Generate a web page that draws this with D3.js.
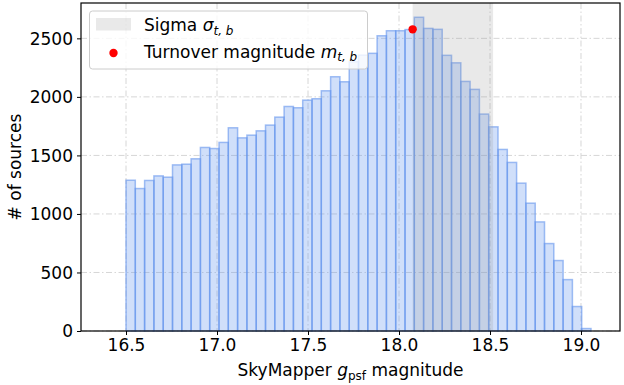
<!DOCTYPE html>
<html>
<head>
<meta charset="utf-8">
<script src="https://cdn.jsdelivr.net/npm/d3@7"></script>
<style>
  body { margin: 0; background: #fff; }
  text { font-family: "DejaVu Sans", sans-serif; }
</style>
</head>
<body>
<svg id="chart" width="624" height="385"></svg>
<script>
// histogram: 50 bins starting at 16.5
const binStart = 16.5;
const binWidth = 0.0511;
const counts = [
  1288, 1217, 1286, 1325, 1314, 1419, 1425, 1471, 1568, 1559,
  1611, 1736, 1650, 1673, 1710, 1759, 1827, 1918, 1907, 1972,
  1984, 2052, 2172, 2129, 2300, 2357, 2372, 2522, 2565, 2565,
  2575, 2680, 2585, 2577, 2355, 2291, 2132, 2064, 1853, 1744,
  1551, 1440, 1263, 1092, 932, 747, 602, 439, 209, 21
];
const xTicks = [16.5, 17.0, 17.5, 18.0, 18.5, 19.0];
const yTicks = [0, 500, 1000, 1500, 2000, 2500];
const turnoverMag = 18.075;
const turnoverCount = 2577;
const sigmaRange = [18.075, 18.517];

(() => {
  const svg = d3.select("#chart");
  const pl = 81, pr = 620, pt = 3, pb = 331;

  const x = d3.scaleLinear().domain([16.2527, 19.2143]).range([pl, pr]);
  const y = d3.scaleLinear().domain([0, 2802]).range([pb, pt]);

  const bins = counts.map((c, i) => ({
    x0: binStart + i * binWidth,
    x1: binStart + (i + 1) * binWidth,
    n: c
  }));

  // grid (dash-dot)
  const grid = svg.append("g").attr("stroke", "#d6d6d6").attr("stroke-width", 1)
    .attr("stroke-dasharray", "6,2.5,1.5,2.5");
  grid.selectAll(".gx").data(xTicks).join("line")
    .attr("x1", d => x(d)).attr("x2", d => x(d))
    .attr("y1", pt).attr("y2", pb);
  grid.selectAll(".gy").data(yTicks).join("line")
    .attr("x1", pl).attr("x2", pr)
    .attr("y1", d => y(d)).attr("y2", d => y(d));

  // bars
  svg.append("g").selectAll("rect").data(bins).join("rect")
    .attr("x", d => x(d.x0))
    .attr("y", d => y(d.n))
    .attr("width", d => x(d.x1) - x(d.x0))
    .attr("height", d => y(0) - y(d.n))
    .attr("fill", "rgba(100,149,237,0.3)")
    .attr("stroke", "rgba(100,149,237,0.6)")
    .attr("stroke-width", 1.5);

  // sigma span
  svg.append("rect")
    .attr("x", x(sigmaRange[0]))
    .attr("y", pt)
    .attr("width", x(sigmaRange[1]) - x(sigmaRange[0]))
    .attr("height", pb - pt)
    .attr("fill", "#999")
    .attr("fill-opacity", 0.22);

  // turnover point
  svg.append("circle")
    .attr("cx", x(turnoverMag)).attr("cy", y(turnoverCount))
    .attr("r", 4.2).attr("fill", "red");

  // axes
  const xAxis = svg.append("g").attr("transform", `translate(0,${pb})`)
    .call(d3.axisBottom(x).tickValues(xTicks).tickFormat(d3.format(".1f")).tickSize(4).tickPadding(4));
  const yAxis = svg.append("g").attr("transform", `translate(${pl},0)`)
    .call(d3.axisLeft(y).tickValues(yTicks).tickFormat(d3.format("d")).tickSize(4).tickPadding(4));
  [xAxis, yAxis].forEach(a => {
    a.select(".domain").remove();
    a.selectAll("line").attr("stroke", "#000").attr("stroke-width", 1);
    a.selectAll("text").attr("font-size", 17).attr("fill", "#000")
      .attr("font-family", "DejaVu Sans, sans-serif");
  });
  yAxis.selectAll("text").attr("dy", "0.35em");

  // frame
  svg.append("rect")
    .attr("x", pl).attr("y", pt)
    .attr("width", pr - pl).attr("height", pb - pt)
    .attr("fill", "none").attr("stroke", "#000").attr("stroke-width", 1.2);

  // axis labels
  const xl = svg.append("text").attr("x", (pl + pr) / 2).attr("y", 376)
    .attr("text-anchor", "middle").attr("font-size", 17);
  xl.append("tspan").text("SkyMapper ");
  xl.append("tspan").attr("font-style", "italic").text("g");
  xl.append("tspan").attr("font-size", 12).attr("dy", 3.5).text("psf");
  xl.append("tspan").attr("dy", -3.5).text(" magnitude");

  svg.append("text")
    .attr("transform", `translate(21,${(pt + pb) / 2}) rotate(-90)`)
    .attr("text-anchor", "middle").attr("font-size", 17)
    .text("# of sources");

  // legend
  const lg = svg.append("g");
  lg.append("rect")
    .attr("x", 89.5).attr("y", 11).attr("width", 278).attr("height", 58)
    .attr("rx", 3).attr("fill", "#fff").attr("fill-opacity", 0.8)
    .attr("stroke", "#ccc").attr("stroke-width", 1);
  lg.append("rect")
    .attr("x", 96).attr("y", 18).attr("width", 35).attr("height", 12.5)
    .attr("fill", "#999").attr("fill-opacity", 0.22);
  lg.append("circle").attr("cx", 113.5).attr("cy", 53).attr("r", 4.2).attr("fill", "red");

  const t1 = lg.append("text").attr("x", 144).attr("y", 31).attr("font-size", 17);
  t1.append("tspan").text("Sigma ");
  t1.append("tspan").attr("font-style", "italic").text("σ");
  t1.append("tspan").attr("font-style", "italic").attr("font-size", 12).attr("dy", 3.5).text("t, b");

  const t2 = lg.append("text").attr("x", 144).attr("y", 57.5).attr("font-size", 17);
  t2.append("tspan").text("Turnover magnitude ");
  t2.append("tspan").attr("font-style", "italic").text("m");
  t2.append("tspan").attr("font-style", "italic").attr("font-size", 12).attr("dy", 3.5).text("t, b");
})();
</script>
</body>
</html>
